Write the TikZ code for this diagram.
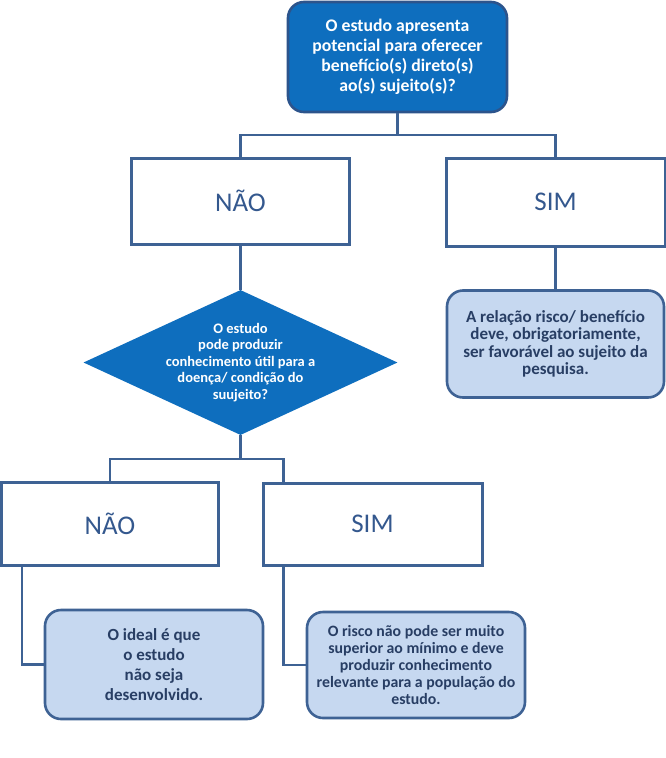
\documentclass[tikz,border=0pt]{standalone}
\usepackage{fontspec}
\setmainfont{Carlito}
\usetikzlibrary{shapes.geometric,calc}
\definecolor{darkfill}{RGB}{14,110,190}
\definecolor{darkborder}{RGB}{44,84,140}
\definecolor{linec}{RGB}{62,98,148}
\definecolor{lightfill}{RGB}{198,216,240}
\definecolor{txtdark}{RGB}{40,62,100}
\definecolor{txtans}{RGB}{52,88,142}
\tikzset{
  qbox/.style={draw=darkborder, fill=darkfill, line width=2.6pt, rounded corners=16pt,
    minimum width=219pt, minimum height=110pt, inner sep=0pt, text=white, align=center,
    font=\bfseries\fontsize{17.7}{20}\selectfont},
  qdia/.style={diamond, draw=none, fill=darkfill, minimum width=314pt, minimum height=145pt, inner sep=0pt},
  diatext/.style={text=white, align=center, font=\bfseries\fontsize{14.5}{16.5}\selectfont},
  ansbox/.style={draw=linec, fill=white, line width=3pt, minimum width=218pt, inner sep=0pt,
    text=txtans, font=\fontsize{27}{32}\selectfont},
  resbox/.style={draw=linec, fill=lightfill, line width=2.6pt, rounded corners=16pt,
    minimum width=217pt, inner sep=0pt, text=txtdark, align=center},
  conn/.style={draw=linec, line width=2.5pt}
}
\begin{document}
\begin{tikzpicture}[x=1pt,y=-1pt]
\useasboundingbox (0,0) rectangle (666,758);
\fill[white] (0,0) rectangle (666,758);

\node[qbox] (top) at (397.5,57) {O estudo apresenta\\potencial para oferecer\\benefício(s) direto(s)\\ao(s) sujeito(s)?};

\node[ansbox, minimum height=86pt] (n1) at (240.5,201) {NÃO};
\node[ansbox, minimum height=88pt, minimum width=219pt] (s1) at (555.5,202) {SIM};

\node[resbox, minimum height=107pt, font=\bfseries\fontsize{17}{17.5}\selectfont] (r1) at (555.5,344)
  {A relação risco/ benefício\\deve, obrigatoriamente,\\ser favorável ao sujeito da\\pesquisa.};

\node[qdia] (q2) at (240.5,362.5) {};
\node[diatext] (q2t) at (240.5,362.5) {O estudo\\pode produzir\\conhecimento útil para a\\doença/ condição do\\suujeito?};

\node[ansbox, minimum height=83pt, minimum width=217pt] (n2) at (110,523.5) {NÃO};
\node[ansbox, minimum height=82pt, minimum width=219pt] (s2) at (372.5,524) {SIM};

\node[resbox, minimum height=109pt, minimum width=218pt, font=\bfseries\fontsize{17}{20}\selectfont] (r2) at (154,664.5)
  {O ideal é que\\o estudo\\não seja\\desenvolvido.};
\node[resbox, minimum height=106pt, minimum width=218pt, font=\bfseries\fontsize{15.8}{17}\selectfont] (r3) at (416,665)
  {O risco não pode ser muito\\superior ao mínimo e deve\\produzir conhecimento\\relevante para a população do\\estudo.};

% connectors
\coordinate (j1) at (397.5,135);
\draw[conn] (top.south) -- (j1);
\draw[conn] (n1.north) |- (j1) -| (s1.north);
\draw[conn] (n1.south) -- (q2.north);
\draw[conn] (s1.south) -- (r1.north);

\coordinate (j2) at (240.5,459);
\coordinate (s2top) at ($(s2.north west)!0.1!(s2.north east)$);
\coordinate (s2bot) at ($(s2.south west)!0.1!(s2.south east)$);
\coordinate (n2bot) at ($(n2.south west)!0.1!(n2.south east)$);
\draw[conn] (q2.south) -- (j2);
\draw[conn] (n2.north) |- (j2) -| (s2top);
\draw[conn] (n2bot) |- (r2.west);
\draw[conn] (s2bot) |- (r3.west);
\end{tikzpicture}
\end{document}
